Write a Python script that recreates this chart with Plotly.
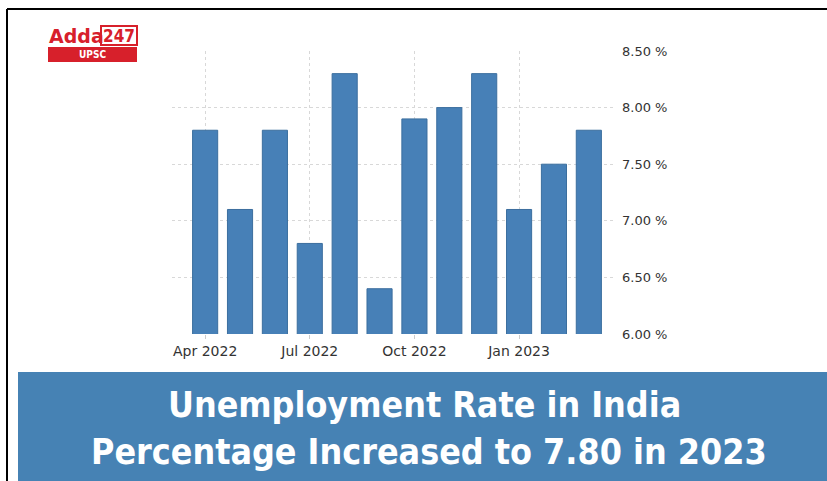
import plotly.graph_objects as go

months = ["Apr 2022", "May 2022", "Jun 2022", "Jul 2022", "Aug 2022", "Sep 2022",
          "Oct 2022", "Nov 2022", "Dec 2022", "Jan 2023", "Feb 2023", "Mar 2023"]
rates = [7.80, 7.10, 7.80, 6.80, 8.30, 6.40, 7.90, 8.00, 8.30, 7.10, 7.50, 7.80]
x_tick_vals = ["Apr 2022", "Jul 2022", "Oct 2022", "Jan 2023"]
y_tick_vals = [6.0, 6.5, 7.0, 7.5, 8.0, 8.5]
y_tick_text = ["6.00 %", "6.50 %", "7.00 %", "7.50 %", "8.00 %", "8.50 %"]
title_lines = ["Unemployment Rate in India", "Percentage Increased to 7.80 in 2023"]

W, H = 827, 481
BLUE = "#4682B4"
BAR = "#4780B7"
RED = "#D7202B"

def px(x):
    return x / W

def py(y):
    return 1 - y / H

fig = go.Figure()
fig.add_trace(go.Bar(x=months, y=rates,
                     marker=dict(color=BAR, line=dict(width=1, color="#3B6E9E")),
                     hoverinfo="x+y"))

fig.update_layout(
    width=W, height=H, autosize=False,
    margin=dict(l=0, r=0, t=0, b=0, pad=0, autoexpand=False),
    paper_bgcolor="white", plot_bgcolor="white",
    showlegend=False,
    bargap=0.28,
    xaxis=dict(
        domain=[px(172), px(615)],
        type="category",
        range=[-0.95, 11.75],
        tickmode="array", tickvals=x_tick_vals, ticktext=x_tick_vals,
        showgrid=True, gridcolor="#d8d8d8", griddash="dot", gridwidth=1,
        ticks="outside", ticklen=4, tickcolor="#cccccc",
        tickfont=dict(family="DejaVu Sans", size=14, color="#333333"),
        showline=False, zeroline=False, automargin=False,
    ),
    yaxis=dict(
        domain=[py(334), py(51)],
        range=[6.0, 8.5],
        side="right",
        tickmode="array", tickvals=y_tick_vals, ticktext=y_tick_text,
        showgrid=True, gridcolor="#d8d8d8", griddash="dot", gridwidth=1,
        ticks="", ticklabelstandoff=6,
        tickfont=dict(family="DejaVu Sans", size=13, color="#333333"),
        showline=False, zeroline=False, automargin=False,
    ),
)

shapes = [
    dict(type="line", xref="paper", yref="paper", x0=px(7), x1=1, y0=py(9), y1=py(9),
         line=dict(color="black", width=2)),
    dict(type="line", xref="paper", yref="paper", x0=px(7), x1=px(7), y0=py(9), y1=0,
         line=dict(color="black", width=2)),
    dict(type="rect", xref="paper", yref="paper", x0=px(18), x1=1, y0=0, y1=py(372),
         fillcolor=BLUE, line=dict(width=0), layer="below"),
    dict(type="rect", xref="paper", yref="paper", x0=px(48), x1=px(137), y0=py(62), y1=py(47),
         fillcolor=RED, line=dict(width=0)),
    dict(type="rect", xref="paper", yref="paper", x0=px(101), x1=px(137), y0=py(45), y1=py(26),
         fillcolor="white", line=dict(color=RED, width=2)),
]
fig.update_layout(shapes=shapes)

ann = [
    dict(text="<b>Adda</b>", x=px(47), y=py(35.5), xanchor="left", yanchor="middle",
         font=dict(family="DejaVu Sans", size=19, color=RED)),
    dict(text="<b>247</b>", x=px(119), y=py(35.5), xanchor="center", yanchor="middle",
         font=dict(family="DejaVu Sans Condensed", size=17, color=RED)),
    dict(text="<b>UPSC</b>", x=px(92.5), y=py(54.5), xanchor="center", yanchor="middle",
         font=dict(family="DejaVu Sans Condensed", size=10, color="white")),
    dict(text="<b>" + title_lines[0] + "</b>", x=px(424), y=py(404), xanchor="center", yanchor="middle",
         font=dict(family="DejaVu Sans Condensed", size=35.5, color="white")),
    dict(text="<b>" + title_lines[1] + "</b>", x=px(429), y=py(451), xanchor="center", yanchor="middle",
         font=dict(family="DejaVu Sans Condensed", size=35.5, color="white")),
]
for a in ann:
    a.update(xref="paper", yref="paper", showarrow=False)
fig.update_layout(annotations=ann)

post = ("document.body.style.margin='0';document.body.style.overflow='hidden';"
        "var gd=document.getElementById('{plot_id}');"
        "gd.style.position='absolute';gd.style.left='0px';gd.style.top='0px';")
fig.write_html("out.html", post_script=post, config={"displayModeBar": False})
